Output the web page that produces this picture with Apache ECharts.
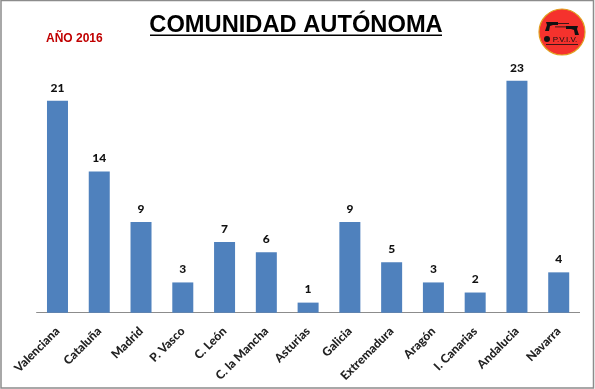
<!DOCTYPE html>
<html><head><meta charset="utf-8">
<style>html,body{margin:0;padding:0;background:#fff}#c{width:595px;height:389px}</style>
<script src="https://cdn.jsdelivr.net/npm/echarts@6/dist/echarts.min.js"></script>
</head><body><div id="c"></div>
<script>
const categories = ['Valenciana','Cataluña','Madrid','P. Vasco','C. León','C. la Mancha','Asturias','Galicia','Extremadura','Aragón','I. Canarias','Andalucia','Navarra'];
const values = [21,14,9,3,7,6,1,9,5,3,2,23,4];
const titleText = 'COMUNIDAD AUTÓNOMA';
const yearText = 'AÑO 2016';
const logoText = 'P.V.I.V.';
const chart = echarts.init(document.getElementById('c'), null, {renderer:'canvas'});
chart.setOption({
  animation:false,
  backgroundColor:'#fff',
  grid:{left:36.6,right:15.4,top:60.5,bottom:76.3,containLabel:false},
  xAxis:{type:'category',data:categories,
    axisLine:{lineStyle:{color:'#8c8c8c',width:1}},axisTick:{show:false},
    axisLabel:{interval:0,rotate:45,margin:16.5,fontFamily:'Lato',fontWeight:900,fontSize:12,color:'#222'}},
  yAxis:{type:'value',min:0,max:25,show:false,splitLine:{show:false}},
  series:[{type:'bar',data:values,barWidth:21,itemStyle:{color:'#4f81bd'},
    label:{show:true,position:'top',distance:7,fontFamily:'Lato',fontWeight:900,fontSize:12,color:'#111'}}],
  graphic:[
    {type:'rect',z:-1,shape:{x:1,y:0.5,width:592.5,height:387.5},style:{fill:'none',stroke:'#8c8c8c',lineWidth:1.5}},
    {type:'text',x:296,y:25.5,style:{text:titleText,fill:'#000',font:'bold 23.7px "Liberation Sans"',align:'center',verticalAlign:'middle'}},
    {type:'rect',shape:{x:150,y:34.5,width:292,height:1.5},style:{fill:'#000'}},
    {type:'text',x:46,y:39,style:{text:yearText,fill:'#c00000',font:'bold 12px "Liberation Sans"',align:'left',verticalAlign:'middle'}},
    {type:'circle',shape:{cx:562,cy:32,r:23},style:{fill:'#f5322d',stroke:'#e0a020',lineWidth:1.2}},
    {type:'polygon',shape:{points:[[546,22],[558,22],[558,25],[553,25],[550,26],[549,31],[545,31],[547,25]]},style:{fill:'#111'}},
    {type:'rect',shape:{x:558,y:23,width:11,height:0.8},style:{fill:'#111'}},
    {type:'polygon',shape:{points:[[578,26],[566,26],[566,29],[571,29],[574,30],[575,35],[579,35],[577,29]]},style:{fill:'#111'}},
    {type:'rect',shape:{x:555,y:26.5,width:11,height:0.8},style:{fill:'#111'}},
    {type:'circle',shape:{cx:547,cy:39,r:3},style:{fill:'#111'}},
    {type:'text',x:565,y:39.5,style:{text:logoText,fill:'#111',font:'8px "Liberation Sans"',align:'center',verticalAlign:'middle'}},
    {type:'rect',shape:{x:546,y:44,width:32,height:0.8},style:{fill:'#111'}}
  ]
});
</script></body></html>
